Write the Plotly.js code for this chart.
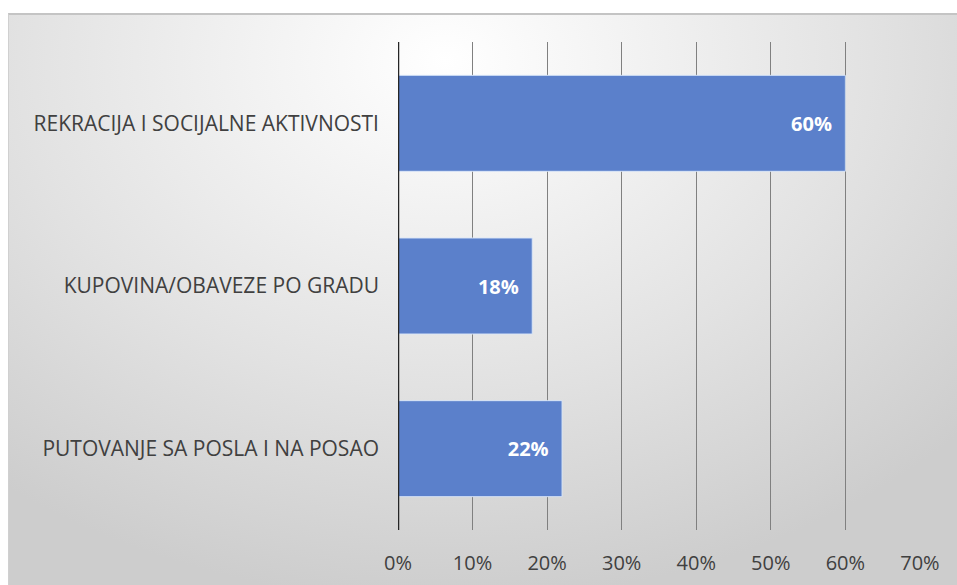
<!DOCTYPE html>
<html>
<head>
<meta charset="utf-8">
<script src="https://cdn.plot.ly/plotly-3.0.1.min.js"></script>
<style>
  html, body { margin: 0; padding: 0; background: #ffffff; width: 957px; height: 585px; overflow: hidden; }
  #frame {
    position: absolute; left: 8px; top: 13px; width: 949px; height: 572px;
    border-top: 2px solid #c4c4c4; border-left: 1px solid #d0d0d0; box-sizing: border-box;
    background: radial-gradient(ellipse 75% 95% at 46% 8%, #ffffff 0%, #f3f3f3 25%, #e2e2e2 60%, #cdcdcd 100%);
  }
  #chart { position: absolute; left: 0; top: 0; width: 957px; height: 585px; }
</style>
</head>
<body>
<div id="frame"></div>
<div id="chart"></div>
<script>
const categories = ["PUTOVANJE SA POSLA I NA POSAO", "KUPOVINA/OBAVEZE PO GRADU", "REKRACIJA I SOCIJALNE AKTIVNOSTI"];
const values = [0.22, 0.18, 0.60];
const tickVals = [0, 0.1, 0.2, 0.3, 0.4, 0.5, 0.6, 0.7];
const tickText = ["0%", "10%", "20%", "30%", "40%", "50%", "60%", "70%"];

const font = "Open Sans, Noto Sans, Liberation Sans, sans-serif";

const trace = {
  type: "bar",
  orientation: "h",
  y: categories,
  x: values,
  marker: { color: "rgb(91,128,203)", line: { color: "rgba(220,232,250,0.9)", width: 1 } },
  texttemplate: "%{x:.0%}\u00a0\u00a0",
  textposition: "inside",
  insidetextanchor: "end",
  textfont: { family: font, size: 20, color: "#ffffff", weight: "bold" },
  hoverinfo: "skip",
  cliponaxis: false
};

const layout = {
  width: 957, height: 585,
  margin: { l: 398, r: 37, t: 42, b: 55 },
  paper_bgcolor: "rgba(0,0,0,0)",
  plot_bgcolor: "rgba(0,0,0,0)",
  bargap: 0.41,
  showlegend: false,
  xaxis: {
    range: [0, 0.7001],
    tickvals: tickVals, ticktext: tickText,
    showgrid: true, gridcolor: "#808080", gridwidth: 1,
    zeroline: false, showline: false, ticks: "",
    ticklabelstandoff: 19,
    tickfont: { family: font, size: 20, color: "#404040" },
    fixedrange: true
  },
  yaxis: {
    type: "category",
    showgrid: false, zeroline: false,
    showline: false, ticks: "",
    ticklabelstandoff: 18,
    tickfont: { family: font, size: 21, color: "#404040" },
    fixedrange: true
  },
  shapes: [
    { type: "line", xref: "x", yref: "paper", x0: 0, x1: 0, y0: 0, y1: 1,
      line: { color: "#262626", width: 2.5 }, layer: "above" }
  ]
};

Plotly.newPlot("chart", [trace], layout, { displayModeBar: false, staticPlot: true });
</script>
</body>
</html>
